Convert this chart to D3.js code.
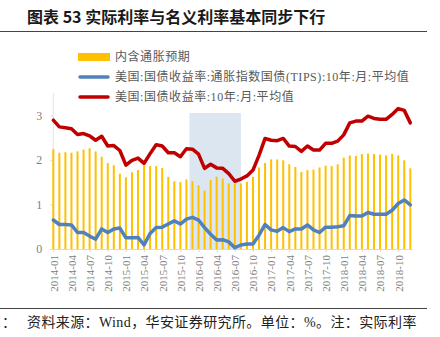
<!DOCTYPE html>
<html><head><meta charset="utf-8">
<script src="https://cdn.jsdelivr.net/npm/d3@7"></script>
<style>
html,body{margin:0;padding:0;background:#fff;}
svg{display:block;}
text{font-family:"Liberation Serif","Noto Sans CJK SC",serif;}
</style></head>
<body>
<svg id="c" width="440" height="337"></svg>
<script>
const months = [];
for (let y = 2014; y <= 2018; y++) for (let m = 1; m <= 12; m++) months.push(y + "-" + String(m).padStart(2, "0"));

const nominal = [2.89,2.74,2.72,2.70,2.57,2.59,2.54,2.44,2.53,2.31,2.32,2.21,
  1.88,1.99,2.04,1.92,2.14,2.34,2.31,2.16,2.16,2.07,2.25,2.24,
  2.13,1.81,1.90,1.82,1.81,1.69,1.52,1.57,1.64,1.77,2.10,2.48,
  2.44,2.43,2.48,2.31,2.30,2.19,2.31,2.22,2.22,2.37,2.37,2.42,
  2.56,2.83,2.87,2.87,2.98,2.93,2.91,2.91,3.02,3.15,3.11,2.83];
const tips = [0.65,0.55,0.55,0.54,0.37,0.37,0.29,0.22,0.45,0.37,0.45,0.47,
  0.25,0.25,0.26,0.09,0.35,0.48,0.49,0.56,0.63,0.56,0.67,0.71,
  0.65,0.48,0.33,0.20,0.21,0.16,0.03,0.09,0.11,0.11,0.31,0.55,
  0.43,0.40,0.48,0.39,0.45,0.45,0.54,0.43,0.37,0.49,0.49,0.50,
  0.52,0.75,0.74,0.74,0.82,0.78,0.78,0.78,0.87,1.02,1.10,0.99];
const expectation = [2.24,2.16,2.17,2.16,2.19,2.23,2.26,2.19,2.07,1.93,1.88,1.69,
  1.61,1.72,1.77,1.87,1.86,1.86,1.82,1.62,1.52,1.50,1.56,1.52,
  1.43,1.31,1.55,1.62,1.58,1.47,1.47,1.47,1.51,1.62,1.83,1.93,
  2.01,2.01,1.99,1.90,1.84,1.73,1.77,1.78,1.83,1.87,1.86,1.90,
  2.05,2.10,2.09,2.13,2.14,2.13,2.12,2.10,2.13,2.10,1.99,1.81];
const shadeRange = ["2015-12", "2016-08"];
const shadeTop = 3.05;
const yTicks = [0, 1, 2, 3];
const xTickLabels = months.filter((d, i) => i % 3 === 0);
const seriesNames = ["内含通胀预期", "美国:国债收益率:通胀指数国债(TIPS):10年:月:平均值", "美国:国债收益率:10年:月:平均值"];
const titleText = "图表 53 实际利率与名义利率基本同步下行";
const footText = "资料来源：Wind，华安证券研究所。单位：%。注：实际利率";

const svg = d3.select("#c");
const x = d3.scalePoint().domain(months).range([53.3, 410.3]);
const step = x.step();
const y = d3.scaleLinear().domain([0, 3.5]).range([249, 93]);

// title
svg.append("text").attr("x", 27).attr("y", 23).attr("font-size", 16).attr("font-weight", "bold")
  .attr("fill", "#1a1a1a").style("font-family", "'Noto Sans CJK SC',sans-serif").text(titleText);
svg.append("line").attr("x1", 0).attr("x2", 427).attr("y1", 31.5).attr("y2", 31.5).attr("stroke", "#444").attr("stroke-width", 1);

// shaded band
svg.append("rect")
  .attr("x", x(shadeRange[0]) - step / 2)
  .attr("width", x(shadeRange[1]) - x(shadeRange[0]) + step / 2)
  .attr("y", y(shadeTop)).attr("height", y(0) - y(shadeTop))
  .attr("fill", "#dce6f1");

// y axis
const yAxis = svg.append("g").attr("transform", "translate(53.3,0)")
  .call(d3.axisLeft(y).tickValues(yTicks).tickSize(3).tickPadding(8).tickFormat(d3.format("d")));
yAxis.select(".domain").attr("stroke", "#e8e4dc").attr("d", `M0,${y(3.5)}V${y(0)}`);
yAxis.selectAll(".tick line").attr("stroke", "#e0dcd4");
yAxis.selectAll("text").attr("fill", "#7f7f7f").attr("font-size", 12).style("font-family", "'Liberation Serif',serif");

// bars
svg.append("g").selectAll("rect").data(months).join("rect")
  .attr("x", d => x(d) - 1).attr("width", 2)
  .attr("y", (d, i) => y(expectation[i])).attr("height", (d, i) => y(0) - y(expectation[i]))
  .attr("fill", "#ffc000");

// x axis
const xAxis = svg.append("g").attr("transform", `translate(0,${y(0)})`)
  .call(d3.axisBottom(x).tickValues(xTickLabels).tickSize(3).tickPadding(4));
xAxis.select(".domain").attr("stroke", "#d9d9d9").attr("d", "M50,0.5H413");
xAxis.selectAll(".tick line").attr("stroke", "#d9d9d9");
xAxis.selectAll("text").attr("fill", "#808080").attr("font-size", 11)
  .style("font-family", "'Liberation Serif',serif")
  .attr("text-anchor", "end").attr("transform", "rotate(-90)")
  .attr("x", -6).attr("y", 0).attr("dy", "0.35em");

// lines
const line = arr => d3.line().x((d, i) => x(months[i])).y(d => y(d))(arr);
svg.append("path").attr("d", line(tips)).attr("fill", "none").attr("stroke", "#4f81bd")
  .attr("stroke-width", 3.5).attr("stroke-linejoin", "round").attr("stroke-linecap", "round");
svg.append("path").attr("d", line(nominal)).attr("fill", "none").attr("stroke", "#c00000")
  .attr("stroke-width", 3.5).attr("stroke-linejoin", "round").attr("stroke-linecap", "round");

// legend
const lg = svg.append("g");
const lgY = [57, 77, 97];
lg.append("rect").attr("x", 78).attr("y", lgY[0] - 4).attr("width", 32).attr("height", 8).attr("fill", "#ffc000");
lg.append("line").attr("x1", 80).attr("x2", 108).attr("y1", lgY[1]).attr("y2", lgY[1])
  .attr("stroke", "#4f81bd").attr("stroke-width", 3.5).attr("stroke-linecap", "round");
lg.append("line").attr("x1", 80).attr("x2", 108).attr("y1", lgY[2]).attr("y2", lgY[2])
  .attr("stroke", "#c00000").attr("stroke-width", 3.5).attr("stroke-linecap", "round");
lg.selectAll("text").data(seriesNames).join("text")
  .attr("x", 115).attr("y", (d, i) => lgY[i]).attr("dy", "0.35em")
  .attr("font-size", 12).attr("letter-spacing", 0.55).attr("fill", "#595959").text(d => d);

// footer
svg.append("line").attr("x1", 0).attr("x2", 427).attr("y1", 308.5).attr("y2", 308.5).attr("stroke", "#444").attr("stroke-width", 1);
svg.append("text").attr("x", 2).attr("y", 327).attr("font-size", 14).attr("fill", "#222").text("：");
svg.append("text").attr("x", 27).attr("y", 327).attr("font-size", 14).attr("letter-spacing", 0.4).attr("fill", "#222").text(footText);
</script>
</body></html>
